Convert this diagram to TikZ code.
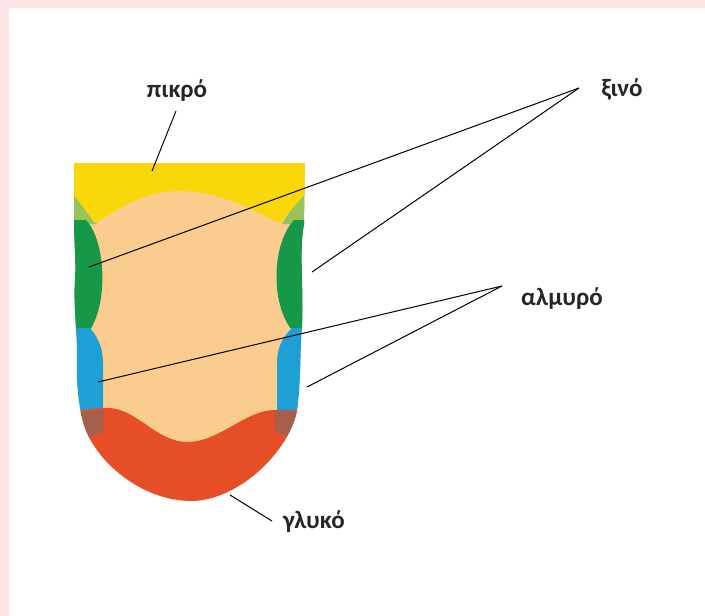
\documentclass[tikz,border=0pt]{standalone}
\usepackage{fontspec}
\setmainfont{Carlito}
\definecolor{framepink}{RGB}{253,228,228}
\definecolor{peach}{RGB}{250,204,142}
\definecolor{bitteryellow}{RGB}{250,215,10}
\definecolor{sourgreen}{RGB}{22,152,72}
\definecolor{lightgreen}{RGB}{150,195,90}
\definecolor{saltblue}{RGB}{30,160,215}
\definecolor{sweetred}{RGB}{230,78,40}
\definecolor{cornerbrown}{RGB}{165,95,75}
\begin{document}
\begin{tikzpicture}[x=1pt,y=-1pt,
  lbl/.style={font=\fontsize{25}{29}\selectfont\bfseries, text=black!85, anchor=base, inner sep=0pt},
  pointer/.style={draw=black, line width=1pt}]
% page with a pink frame on the top and left
\fill[framepink] (0,0) rectangle (705,616);
\fill[white] (9,8) rectangle (705,616);
\useasboundingbox (0,0) rectangle (705,616);

% tongue and its taste zones
\begin{scope}
  \clip (74,163) -- (305,163) -- (304,225)
    .. controls (299,250) and (304,290) .. (302,328)
    .. controls (300,345) and (301,385) .. (297,410)
    .. controls (290,450) and (240,500) .. (192,501)
    .. controls (140,501) and (95,460) .. (84,425)
    .. controls (78,405) and (76,380) .. (77,350)
    .. controls (77,335) and (73,300) .. (75,280)
    .. controls (76,260) and (74,240) .. (74,225) -- cycle;
  \fill[peach] (60,150) rectangle (320,520);
  % transition corners
  \fill[lightgreen] (60,188) -- (74,188) -- (97,224) -- (60,224) -- cycle;
  \fill[lightgreen] (320,188) -- (304,188) -- (282,224) -- (320,224) -- cycle;
  % bitter: back of the tongue
  \fill[bitteryellow] (60,150) -- (320,150) -- (320,195) -- (304,195) -- (280,223)
    .. controls (250,208) and (215,190) .. (177,191)
    .. controls (140,192) and (115,212) .. (95,223) -- (74,195) -- (60,195) -- cycle;
  % sour: sides
  \fill[sourgreen] (60,220) -- (86,220) .. controls (105,240) and (109,300) .. (90,330) -- (60,330) -- cycle;
  \fill[sourgreen] (320,220) -- (294,220) .. controls (271,245) and (271,305) .. (292,330) -- (320,330) -- cycle;
  % salty: front sides
  \fill[saltblue] (60,328) -- (90,328) .. controls (100,340) and (103,350) .. (103,365) -- (103,420) -- (60,420) -- cycle;
  \fill[saltblue] (320,328) -- (292,328) .. controls (280,340) and (277,350) .. (277,365) -- (277,420) -- (320,420) -- cycle;
  % sweet: tip
  \fill[sweetred] (60,412) -- (103,408)
    .. controls (135,405) and (155,442) .. (187,442)
    .. controls (220,442) and (245,410) .. (275,410) -- (320,410) -- (320,520) -- (60,520) -- cycle;
  \fill[cornerbrown] (60,414) -- (104,410) -- (103,432) -- (60,450) -- cycle;
  \fill[cornerbrown] (320,412) -- (274,410) -- (275,432) -- (320,447) -- cycle;
\end{scope}

% labels
\node[lbl] (bitter) at (177,97) {πικρό};
\node[lbl] (sour)   at (622,96) {ξινό};
\node[lbl] (salty)  at (562,305) {αλμυρό};
\node[lbl] (sweet)  at (314,528) {γλυκό};

% pointer ends
\coordinate (bitterhub) at (176,111);
\coordinate (bitterzone) at (152,171);
\coordinate (sourhub) at (579,88);
\coordinate (sourleft) at (89,267);
\coordinate (sourright) at (312,272);
\coordinate (saltyhub) at (502,286);
\coordinate (saltyleft) at (98,382);
\coordinate (saltyright) at (307,387);
\coordinate (sweethub) at (272,521);
\coordinate (sweetzone) at (230,495);

\draw[pointer] (bitterhub) -- (bitterzone);
\draw[pointer] (sourhub) -- (sourleft);
\draw[pointer] (sourhub) -- (sourright);
\draw[pointer] (saltyhub) -- (saltyleft);
\draw[pointer] (saltyhub) -- (saltyright);
\draw[pointer] (sweethub) -- (sweetzone);
\end{tikzpicture}
\end{document}
